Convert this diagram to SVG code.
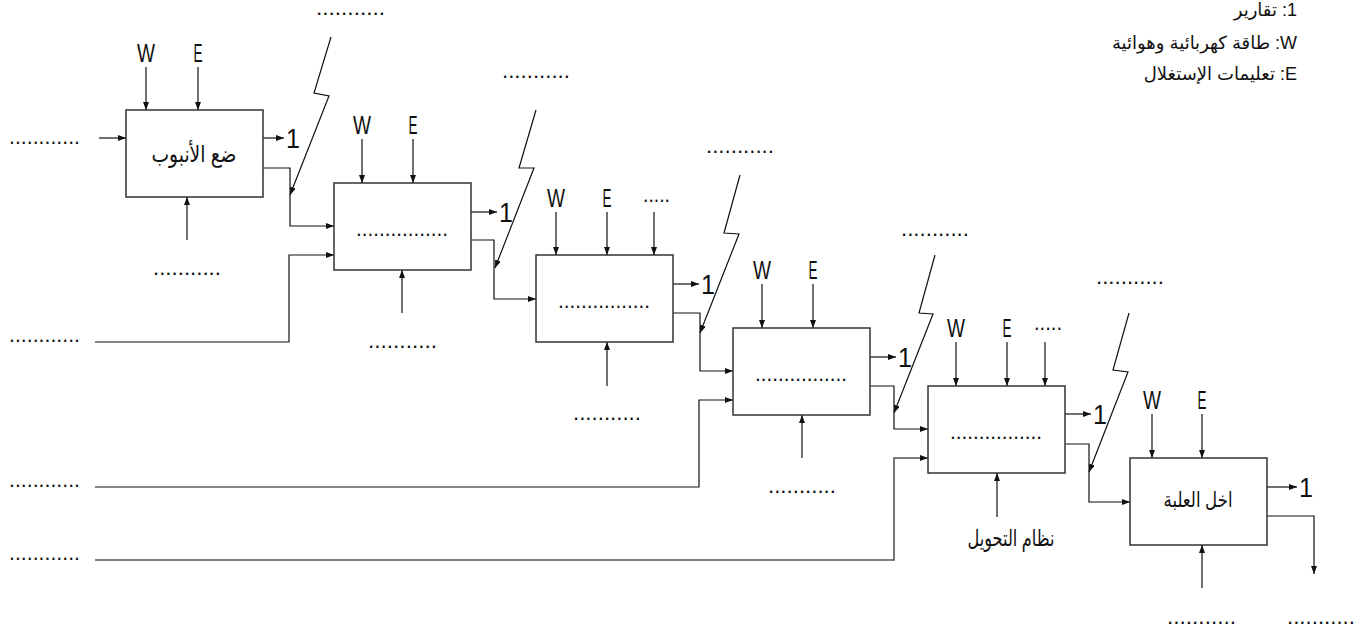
<svg xmlns="http://www.w3.org/2000/svg" width="1364" height="631" viewBox="0 0 1364 631">
<style>
.box{fill:#fff;stroke:#333;stroke-width:1.5}
.ln{fill:none;stroke:#111;stroke-width:1.2}
.arr{fill:none;stroke:#111;stroke-width:1.2;marker-end:url(#ah)}
.lbl{font-family:"Liberation Sans Narrow","Liberation Sans",Arial,sans-serif;font-size:25px;fill:#111}
.one{font-family:"Liberation Sans Narrow","Liberation Sans",Arial,sans-serif;font-size:28px;fill:#111}
.dots{font-family:"Liberation Sans",Arial,sans-serif;font-size:22px;fill:#111}
.ar{font-family:"Liberation Sans","DejaVu Sans",sans-serif;font-size:23px;fill:#111}
.leg{font-family:"Liberation Sans","DejaVu Sans",sans-serif;font-size:18px;fill:#111}
</style>
<defs>
<marker id="ah" markerUnits="userSpaceOnUse" markerWidth="9" markerHeight="7" refX="8" refY="3" orient="auto">
<path d="M0,0 L8,3 L0,6 z" fill="#111"/>
</marker>
</defs>

<g id="legend">
<text class="leg" x="1297" y="16" direction="rtl" text-anchor="start">1: تقارير</text>
<text class="leg" x="1297" y="49" direction="rtl" text-anchor="start">W: طاقة كهربائية وهوائية</text>
<text class="leg" x="1297" y="80" direction="rtl" text-anchor="start">E: تعليمات الإستغلال</text>
</g>

<g id="connectors">
<!-- box1 -->
<line class="arr" x1="146" y1="67" x2="146" y2="110"/>
<line class="arr" x1="198" y1="67" x2="198" y2="110"/>
<line class="arr" x1="99" y1="138" x2="126" y2="138"/>
<line class="arr" x1="263" y1="138" x2="284" y2="138"/>
<line class="arr" x1="187" y1="240" x2="187" y2="197"/>
<polyline class="arr" points="263,168 290,168 290,226 334,226"/>
<polyline class="arr" points="331,37 314,93 329,96 290,195"/>
<polyline class="arr" points="95,342 289,342 289,255 334,255"/>
<!-- box2 -->
<line class="arr" x1="362" y1="139" x2="362" y2="183"/>
<line class="arr" x1="413" y1="139" x2="413" y2="183"/>
<line class="arr" x1="471" y1="212" x2="497" y2="212"/>
<line class="arr" x1="402" y1="313" x2="402" y2="270"/>
<polyline class="arr" points="471,240 494,240 494,299 536,299"/>
<polyline class="arr" points="536,110 519,168 534,168 495,268"/>
<!-- box3 -->
<line class="arr" x1="556" y1="212" x2="556" y2="255"/>
<line class="arr" x1="607" y1="212" x2="607" y2="255"/>
<line class="arr" x1="654" y1="212" x2="654" y2="255"/>
<line class="arr" x1="673" y1="284" x2="699" y2="284"/>
<line class="arr" x1="607" y1="386" x2="607" y2="342"/>
<polyline class="arr" points="673,313 700,313 700,371 733,371"/>
<polyline class="arr" points="740,175 724,233 739,234 700,333"/>
<polyline class="arr" points="95,487 699,487 699,400 733,400"/>
<!-- box4 -->
<line class="arr" x1="762" y1="284" x2="762" y2="328"/>
<line class="arr" x1="813" y1="284" x2="813" y2="328"/>
<line class="arr" x1="870" y1="357" x2="896" y2="357"/>
<line class="arr" x1="802" y1="458" x2="802" y2="415"/>
<polyline class="arr" points="870,386 894,386 894,429 928,429"/>
<polyline class="arr" points="935,255 919,313 933,314 894,413"/>
<polyline class="arr" points="95,560 894,560 894,458 928,458" style="stroke:#555;stroke-width:1.6"/>
<!-- box5 -->
<line class="arr" x1="956" y1="342" x2="956" y2="386"/>
<line class="arr" x1="1007" y1="342" x2="1007" y2="386"/>
<line class="arr" x1="1045" y1="342" x2="1045" y2="386"/>
<line class="arr" x1="1065" y1="414" x2="1091" y2="414"/>
<line class="arr" x1="997" y1="517" x2="997" y2="473"/>
<polyline class="arr" points="1065,444 1089,444 1089,502 1130,502"/>
<polyline class="arr" points="1129,313 1113,370 1128,372 1089,472"/>
<!-- box6 -->
<line class="arr" x1="1152" y1="414" x2="1152" y2="458"/>
<line class="arr" x1="1202" y1="414" x2="1202" y2="458"/>
<line class="arr" x1="1267" y1="487" x2="1297" y2="487"/>
<line class="arr" x1="1202" y1="588" x2="1202" y2="545"/>
<polyline class="arr" points="1267,516 1314,516 1314,574"/>
</g>

<g id="node1">
<rect class="box" x="126" y="110" width="137" height="87"/>
<text class="ar" x="194" y="162" text-anchor="middle" textLength="85" lengthAdjust="spacingAndGlyphs">ضع الأنبوب</text>
<text class="lbl" x="146" y="62" text-anchor="middle" textLength="18" lengthAdjust="spacingAndGlyphs">W</text>
<text class="lbl" x="198" y="62" text-anchor="middle" textLength="9" lengthAdjust="spacingAndGlyphs">E</text>
<text class="one" x="286" y="148" textLength="14" lengthAdjust="spacingAndGlyphs">1</text>
</g>

<g id="node2">
<rect class="box" x="334" y="183" width="137" height="87"/>
<text class="dots" x="402" y="236" text-anchor="middle" textLength="92" lengthAdjust="spacingAndGlyphs">................</text>
<text class="lbl" x="362" y="134" text-anchor="middle" textLength="18" lengthAdjust="spacingAndGlyphs">W</text>
<text class="lbl" x="413" y="134" text-anchor="middle" textLength="9" lengthAdjust="spacingAndGlyphs">E</text>
<text class="one" x="499" y="222" textLength="14" lengthAdjust="spacingAndGlyphs">1</text>
</g>

<g id="node3">
<rect class="box" x="536" y="255" width="137" height="87"/>
<text class="dots" x="604" y="308" text-anchor="middle" textLength="92" lengthAdjust="spacingAndGlyphs">................</text>
<text class="lbl" x="556" y="207" text-anchor="middle" textLength="18" lengthAdjust="spacingAndGlyphs">W</text>
<text class="lbl" x="607" y="207" text-anchor="middle" textLength="9" lengthAdjust="spacingAndGlyphs">E</text>
<text class="dots" x="643" y="202" textLength="27" lengthAdjust="spacingAndGlyphs">.....</text>
<text class="one" x="701" y="294" textLength="14" lengthAdjust="spacingAndGlyphs">1</text>
</g>

<g id="node4">
<rect class="box" x="733" y="328" width="137" height="87"/>
<text class="dots" x="801" y="381" text-anchor="middle" textLength="92" lengthAdjust="spacingAndGlyphs">................</text>
<text class="lbl" x="762" y="279" text-anchor="middle" textLength="18" lengthAdjust="spacingAndGlyphs">W</text>
<text class="lbl" x="813" y="279" text-anchor="middle" textLength="9" lengthAdjust="spacingAndGlyphs">E</text>
<text class="one" x="898" y="367" textLength="14" lengthAdjust="spacingAndGlyphs">1</text>
</g>

<g id="node5">
<rect class="box" x="928" y="386" width="137" height="87"/>
<text class="dots" x="996" y="439" text-anchor="middle" textLength="92" lengthAdjust="spacingAndGlyphs">................</text>
<text class="lbl" x="956" y="337" text-anchor="middle" textLength="18" lengthAdjust="spacingAndGlyphs">W</text>
<text class="lbl" x="1007" y="337" text-anchor="middle" textLength="9" lengthAdjust="spacingAndGlyphs">E</text>
<text class="dots" x="1034" y="330" textLength="28" lengthAdjust="spacingAndGlyphs">.....</text>
<text class="one" x="1093" y="424" textLength="14" lengthAdjust="spacingAndGlyphs">1</text>
<text class="ar" x="1011" y="546" text-anchor="middle" textLength="87" lengthAdjust="spacingAndGlyphs">نظام التحويل</text>
</g>

<g id="node6">
<rect class="box" x="1130" y="458" width="137" height="87"/>
<text class="ar" x="1198" y="507" text-anchor="middle" textLength="69" lengthAdjust="spacingAndGlyphs" style="font-size:21px">اخل العلبة</text>
<text class="lbl" x="1152" y="409" text-anchor="middle" textLength="18" lengthAdjust="spacingAndGlyphs">W</text>
<text class="lbl" x="1202" y="409" text-anchor="middle" textLength="9" lengthAdjust="spacingAndGlyphs">E</text>
<text class="one" x="1299" y="497" textLength="14" lengthAdjust="spacingAndGlyphs">1</text>
</g>

<g id="labels">
<text class="dots" x="9" y="144" textLength="71" lengthAdjust="spacingAndGlyphs">............</text>
<text class="dots" x="9" y="342" textLength="71" lengthAdjust="spacingAndGlyphs">............</text>
<text class="dots" x="9" y="487" textLength="71" lengthAdjust="spacingAndGlyphs">............</text>
<text class="dots" x="9" y="560" textLength="71" lengthAdjust="spacingAndGlyphs">............</text>
<text class="dots" x="316" y="15" textLength="69" lengthAdjust="spacingAndGlyphs">...........</text>
<text class="dots" x="502" y="78" textLength="68" lengthAdjust="spacingAndGlyphs">...........</text>
<text class="dots" x="706" y="153" textLength="68" lengthAdjust="spacingAndGlyphs">...........</text>
<text class="dots" x="901" y="236" textLength="68" lengthAdjust="spacingAndGlyphs">...........</text>
<text class="dots" x="1096" y="284" textLength="68" lengthAdjust="spacingAndGlyphs">...........</text>
<text class="dots" x="153" y="275" textLength="68" lengthAdjust="spacingAndGlyphs">...........</text>
<text class="dots" x="368" y="348" textLength="69" lengthAdjust="spacingAndGlyphs">...........</text>
<text class="dots" x="573" y="420" textLength="68" lengthAdjust="spacingAndGlyphs">...........</text>
<text class="dots" x="768" y="493" textLength="68" lengthAdjust="spacingAndGlyphs">...........</text>
<text class="dots" x="1167" y="624" textLength="69" lengthAdjust="spacingAndGlyphs">...........</text>
<text class="dots" x="1287" y="624" textLength="68" lengthAdjust="spacingAndGlyphs">...........</text>
</g>
</svg>
